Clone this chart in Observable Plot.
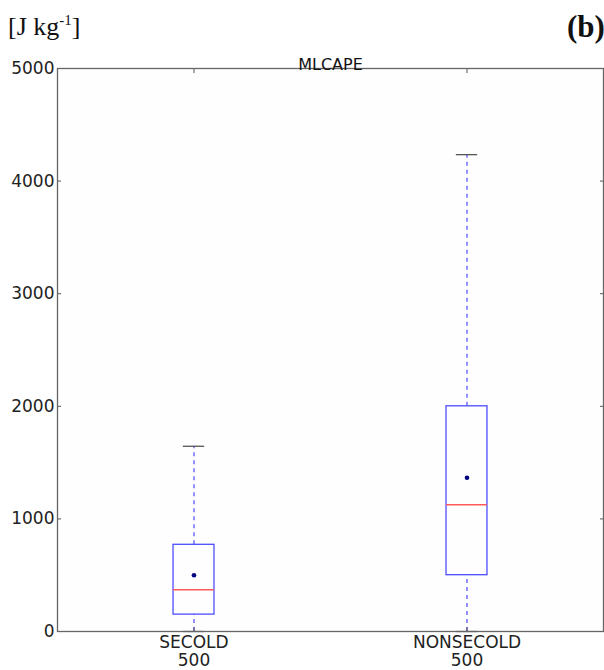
<!DOCTYPE html>
<html>
<head>
<meta charset="utf-8">
<script src="https://cdn.jsdelivr.net/npm/d3@7"></script>
<script src="https://cdn.jsdelivr.net/npm/@observablehq/plot@0.6"></script>
<style>
  html, body { margin: 0; padding: 0; background: #fff; width: 604px; height: 670px; overflow: hidden; }
  #header { position: relative; height: 50px; width: 604px; font-family: "Liberation Serif", "DejaVu Serif", serif; color: #111; }
  #unit { position: absolute; left: 8px; top: 12px; font-size: 26px; }
  #unit sup { font-size: 15px; vertical-align: 10px; line-height: 0; }
  #panel { position: absolute; left: 567px; top: 9px; font-size: 31px; font-weight: bold; white-space: nowrap; }
  #chart svg { display: block; }
</style>
</head>
<body>
<div id="header"><div id="unit">[J kg<sup>-1</sup>]</div><div id="panel">(b)</div></div>
<div id="chart"></div>
<script>
// Data
const categories = ["SECOLD", "NONSECOLD"];
const counts = [500, 500];
const whiskerLow = [0, 0];
const q1 = [150, 500];
const median = [370, 1125];
const q3 = [770, 2000];
const whiskerHigh = [1645, 4235];
const mean = [500, 1365];
const yTicks = [0, 1000, 2000, 3000, 4000, 5000];
const title = "MLCAPE";

const boxHalf = 0.075;
const capHalf = 0.039;

const rows = categories.map((c, i) => ({
  cat: c, pos: i + 1, n: counts[i],
  lo: whiskerLow[i], q1: q1[i], med: median[i], q3: q3[i], hi: whiskerHigh[i], mean: mean[i]
}));

const font = "'DejaVu Sans', sans-serif";

const chart = Plot.plot({
  width: 604,
  height: 620,
  marginLeft: 57,
  marginRight: 1,
  marginTop: 18,
  marginBottom: 39,
  style: { fontFamily: font, fontSize: "17px", color: "#222", background: "transparent" },
  x: { type: "linear", domain: [0.5, 2.5] },
  y: { domain: [0, 5000] },
  marks: [
    Plot.frame({ fill: "#fefefe", stroke: "none" }),
    // whiskers
    Plot.ruleX(rows, { x: "pos", y1: "q3", y2: "hi", stroke: "#5a5aff", strokeWidth: 1.3, strokeDasharray: "4,4" }),
    Plot.ruleX(rows, { x: "pos", y1: "lo", y2: "q1", stroke: "#5a5aff", strokeWidth: 1.3, strokeDasharray: "4,4" }),
    // caps
    Plot.ruleY(rows, { y: "hi", x1: d => d.pos - capHalf, x2: d => d.pos + capHalf, stroke: "#555", strokeWidth: 1.3 }),
    Plot.ruleY(rows, { y: "lo", x1: d => d.pos - capHalf, x2: d => d.pos + capHalf, stroke: "#555", strokeWidth: 1.3 }),
    // boxes
    Plot.rect(rows, { x1: d => d.pos - boxHalf, x2: d => d.pos + boxHalf, y1: "q1", y2: "q3", fill: "none", stroke: "#4d4dff", strokeWidth: 1.3 }),
    // medians
    Plot.ruleY(rows, { y: "med", x1: d => d.pos - boxHalf, x2: d => d.pos + boxHalf, stroke: "#ff5a5a", strokeWidth: 1.5 }),
    // means
    Plot.dot(rows, { x: "pos", y: "mean", r: 2.3, fill: "#000080", stroke: "none" }),
    // axes
    Plot.axisY({ ticks: yTicks, tickSize: 0, tickPadding: 3, tickFormat: d => String(d), label: null, fontSize: 17, fill: "#222" }),
    Plot.axisY({ ticks: yTicks, anchor: "left", tickSize: -4, text: null, label: null, stroke: "#555" }),
    Plot.axisY({ ticks: yTicks, anchor: "right", tickSize: -4, text: null, label: null, stroke: "#555" }),
    Plot.axisX({ ticks: rows.map(d => d.pos), tickSize: 0, tickPadding: 3, tickFormat: d => `${rows[d - 1].cat}\n${rows[d - 1].n}`, label: null, fontSize: 17, lineHeight: 1.1, fill: "#222" }),
    Plot.axisX({ ticks: rows.map(d => d.pos), anchor: "bottom", tickSize: -4, text: null, label: null, stroke: "#555" }),
    Plot.axisX({ ticks: rows.map(d => d.pos), anchor: "top", tickSize: -4, text: null, label: null, stroke: "#555" }),
    Plot.frame({ stroke: "#666", strokeWidth: 1.3 }),
    Plot.text([title], { frameAnchor: "top", dy: -10, text: d => d, fontSize: 16, fill: "#111" })
  ]
});
document.getElementById("chart").appendChild(chart);
</script>
</body>
</html>
